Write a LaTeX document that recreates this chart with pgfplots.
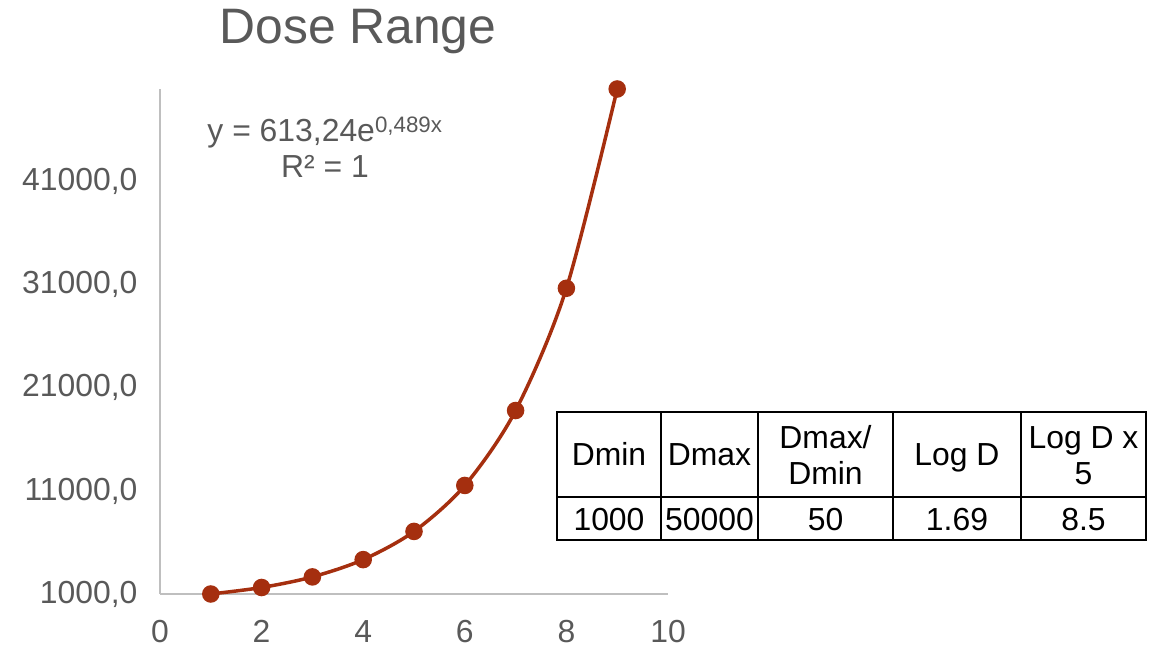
\documentclass[border=0pt]{standalone}
\usepackage{pgfplots}
\pgfplotsset{compat=1.18}
\usepackage{fontspec}
\setmainfont{Liberation Sans}
\definecolor{ser}{HTML}{A52F0F}
\definecolor{txt}{HTML}{595959}
\definecolor{axl}{HTML}{BFBFBF}
\begin{document}
\begin{tikzpicture}[x=1bp,y=1bp]
\path (0,0) rectangle (1160,650);
\begin{axis}[at={(160bp,56bp)}, anchor=south west, scale only axis,
  width=508bp, height=505bp,
  xmin=0, xmax=10, ymin=1000, ymax=50000,
  axis x line=bottom, axis y line=left,
  axis line style={-, draw=axl, line width=1.5bp},
  xtick={0,2,4,6,8,10},
  xticklabels={0,2,4,6,8,10},
  ytick={1000,11000,21000,31000,41000},
  yticklabels={{1000,0},{11000,0},{21000,0},{31000,0},{41000,0}},
  scaled y ticks=false, scaled x ticks=false,
  major tick length=0pt,
  tick label style={font=\fontsize{32}{38}\selectfont, text=txt},
  xticklabel style={yshift=-23bp},
  yticklabel style={xshift=-19bp},
  /pgf/number format/assume math mode=true,
  clip=false]
\addplot[ser, line width=3.5bp, smooth, mark=*, mark size=7bp,
  mark options={fill=ser, draw=ser, solid}] coordinates {
  (1,1000) (2,1630) (3,2659) (4,4336) (5,7071) (6,11531) (7,18803) (8,30663) (9,50000)};
\addplot[ser, line width=2bp, densely dotted, smooth, no marks] coordinates {
  (1,1000) (2,1630) (3,2659) (4,4336) (5,7071) (6,11531) (7,18803) (8,30663) (9,50000)};
\end{axis}
% title
\node[anchor=base, text=txt, font=\fontsize{50}{60}\selectfont] at (358,606) {Dose Range};
% trendline equation
\node[anchor=base, text=txt, font=\fontsize{32}{38}\selectfont] at (325,508) {y = 613,24e\textsuperscript{0,489x}};
\node[anchor=base, text=txt, font=\fontsize{32}{38}\selectfont] at (325,472) {R² = 1};
% table
\draw[line width=2.5bp, black] (557,110) rectangle (1146,238);
\draw[line width=2.5bp, black] (557,153) -- (1146,153);
\foreach \xx in {661,758,893,1021} {\draw[line width=2.5bp, black] (\xx,110) -- (\xx,238);}
\begin{scope}[every node/.style={anchor=base, text=black, font=\fontsize{32}{38}\selectfont, inner sep=0pt}]
\node at (609,184) {Dmin};
\node at (709.5,184) {Dmax};
\node at (825.5,201) {Dmax/};
\node at (825.5,165) {Dmin};
\node at (957,184) {Log D};
\node at (1083.5,201) {Log D x};
\node at (1083.5,165) {5};
\node at (609,119) {1000};
\node at (709.5,119) {50000};
\node at (825.5,119) {50};
\node at (957,119) {1.69};
\node at (1083.5,119) {8.5};
\end{scope}
\end{tikzpicture}
\end{document}
